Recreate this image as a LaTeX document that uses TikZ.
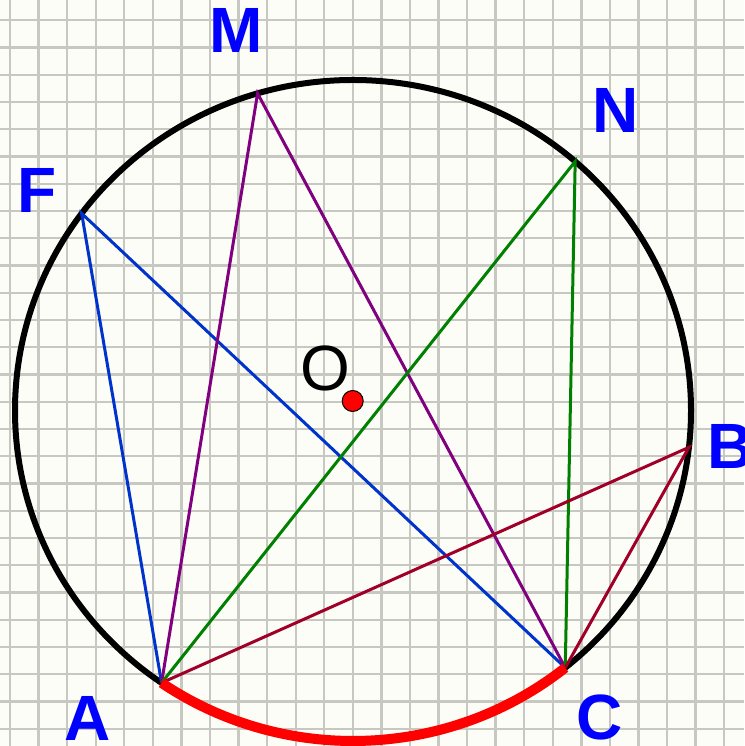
\documentclass[tikz,border=0pt]{standalone}
\usepackage{fontspec}
\setmainfont{Liberation Sans}
\definecolor{bgcol}{RGB}{253,253,247}
\definecolor{gridcol}{RGB}{200,200,194}
\definecolor{fblue}{RGB}{0,51,204}
\definecolor{mpurple}{RGB}{128,0,128}
\definecolor{ngreen}{RGB}{0,128,0}
\definecolor{bred}{RGB}{160,0,40}
\definecolor{lblblue}{RGB}{0,0,255}
\tikzset{
  gridline/.style={draw=gridcol, line width=2.4pt},
  chord/.style={line width=3pt},
  ptlabel/.style={text=lblblue, inner sep=0pt, anchor=center, font=\fontsize{64}{64}\selectfont\bfseries},
}
\begin{document}
\begin{tikzpicture}[x=1pt,y=1pt]
\fill[bgcol] (0,0) rectangle (744,746);
\useasboundingbox (0,0) rectangle (744,746);
% grid
\foreach \k in {0,...,25} \draw[gridline] ({10+28.57*\k},0) -- ({10+28.57*\k},746);
\foreach \k in {0,...,26} \draw[gridline] (0,{746-20.3-27.25*\k}) -- (744,{746-20.3-27.25*\k});
% circle
\coordinate (E) at (353,335.5);
\draw[line width=6pt] (E) ellipse [x radius=338pt, y radius=330.5pt];
% points
\coordinate (A) at ([shift={(E)}]235.5:338pt and 330.5pt);
\coordinate (C) at ([shift={(E)}]308.9:338pt and 330.5pt);
\coordinate (M) at ([shift={(E)}]106.4:338pt and 330.5pt);
\coordinate (F) at ([shift={(E)}]143.4:338pt and 330.5pt);
\coordinate (N) at ([shift={(E)}]48.9:338pt and 330.5pt);
\coordinate (B) at ([shift={(E)}]-6.4:338pt and 330.5pt);
% chords
\draw[chord, fblue] (A) -- (F) -- (C);
\draw[chord, mpurple] (A) -- (M) -- (C);
\draw[chord, ngreen] (A) -- (N) -- (C);
\draw[chord, bred] (A) -- (B) -- (C);
% red arc
\draw[red, line width=10pt] (A) arc[start angle=235.5, end angle=308.9, x radius=338pt, y radius=330.5pt];
% centre
\node[circle, fill=red, draw=black, line width=1pt, minimum size=21pt, inner sep=0pt] (O) at (352.7,345) {};
\node[inner sep=0pt, anchor=center, font=\fontsize{64}{64}\selectfont] (Olbl) at (325,378) {O};
% labels
\node[ptlabel] (Ml) at (236,716) {M};
\node[ptlabel] (Fl) at (37,556) {F};
\node[ptlabel] (Nl) at (616,636) {N};
\node[ptlabel] (Bl) at (731,300) {B};
\node[ptlabel] (Cl) at (600,29) {C};
\node[ptlabel] (Al) at (88,28) {A};
\end{tikzpicture}
\end{document}
